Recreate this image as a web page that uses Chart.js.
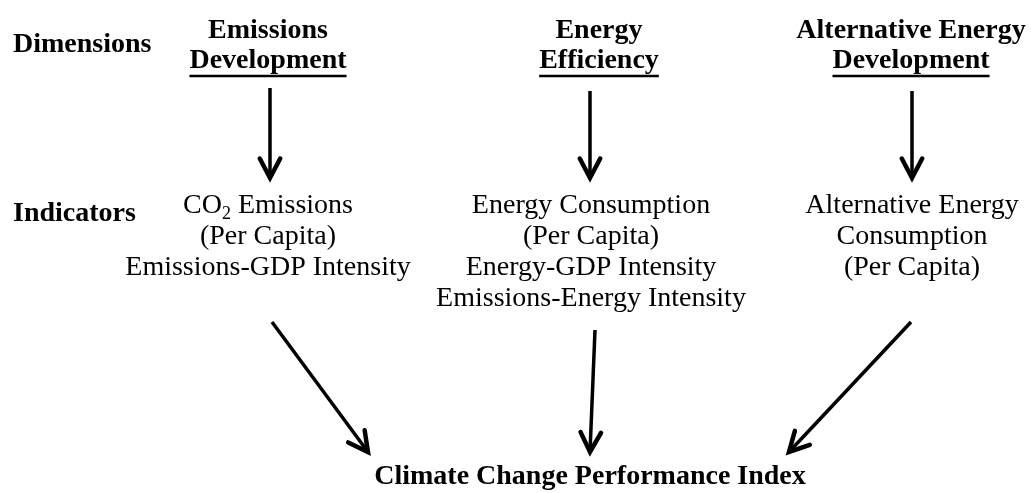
<!DOCTYPE html>
<html>
<head>
<meta charset="utf-8">
<script src="https://cdn.jsdelivr.net/npm/chart.js@4"></script>
<style>
  body { margin: 0; background: white; }
  #wrap { width: 1031px; height: 493px; position: relative; }
</style>
</head>
<body>
<div id="wrap"><canvas id="myChart"></canvas></div>
<script>
// diagram content, in the chart's own x / y units (y grows downward)
const rowLabels = ["Dimensions", "Indicators"]
const rowLabelY = [52, 221]

const dimensionLines = [
    ["Emissions", "Development"],
    ["Energy", "Efficiency"],
    ["Alternative Energy", "Development"]
]
const dimensionX = [268, 599, 911]
const dimensionY = [38, 68]

// {..} = subscript
const indicatorLines = [
    ["CO{2} Emissions", "(Per Capita)", "Emissions-GDP Intensity"],
    ["Energy Consumption", "(Per Capita)", "Energy-GDP Intensity", "Emissions-Energy Intensity"],
    ["Alternative Energy", "Consumption", "(Per Capita)"]
]
const indicatorX = [268, 591, 912]
const indicatorY = [213, 244, 275, 306]

const indexLabel = "Climate Change Performance Index"
const indexX = 590
const indexY = 484

// arrows: start -> end
const arrowStartX = [270, 590, 912, 272, 595, 911]
const arrowStartY = [88, 91, 91, 322, 330, 322]
const arrowEndX = [270, 590, 912, 368, 590, 789]
const arrowEndY = [178, 178, 178, 452, 452, 452]

const datasets = arrowStartX.map((x, i) => {
    return {
        data: [{x: x, y: arrowStartY[i]}, {x: arrowEndX[i], y: arrowEndY[i]}],
        showLine: true,
        borderColor: "black",
        borderWidth: 3.5,
        pointRadius: 0,
        borderCapStyle: "butt"
    }
})

const serif = '"Liberation Serif", "Times New Roman", serif'

function drawRich (ctx, text, cx, y, size) {
    // split into normal / subscript pieces
    const parts = []
    text.split(/(\{[^}]*\})/).forEach((p) => {
        if (!p) return
        if (p[0] === "{") parts.push({t: p.slice(1, -1), sub: true})
        else parts.push({t: p, sub: false})
    })
    let total = 0
    parts.forEach((p) => {
        ctx.font = (p.sub ? Math.round(size * 0.65) : size) + "px " + serif
        p.w = ctx.measureText(p.t).width
        total += p.w
    })
    let x = cx - total / 2
    ctx.textAlign = "left"
    parts.forEach((p) => {
        ctx.font = (p.sub ? Math.round(size * 0.65) : size) + "px " + serif
        ctx.fillText(p.t, x, p.sub ? y + 6 : y)
        x += p.w
    })
}

const diagramPlugin = {
    id: "diagram",
    afterDatasetsDraw (chart) {
        const ctx = chart.ctx
        const sx = chart.scales.x
        const sy = chart.scales.y
        ctx.save()
        ctx.fillStyle = "black"
        ctx.strokeStyle = "black"
        ctx.textBaseline = "alphabetic"

        // arrow heads
        chart.data.datasets.forEach((ds, i) => {
            const pts = chart.getDatasetMeta(i).data
            const a = pts[0], b = pts[1]
            const ang = Math.atan2(b.y - a.y, b.x - a.x)
            const len = 22, spread = Math.PI / 6.5
            ctx.lineWidth = 4.5
            ctx.lineCap = "round"
            ctx.lineJoin = "miter"
            ctx.beginPath()
            ctx.moveTo(b.x - len * Math.cos(ang - spread), b.y - len * Math.sin(ang - spread))
            ctx.lineTo(b.x, b.y)
            ctx.lineTo(b.x - len * Math.cos(ang + spread), b.y - len * Math.sin(ang + spread))
            ctx.stroke()
        })

        // row labels
        ctx.font = "bold 28px " + serif
        ctx.textAlign = "left"
        rowLabels.forEach((t, i) => {
            ctx.fillText(t, sx.getPixelForValue(13), sy.getPixelForValue(rowLabelY[i]))
        })

        // dimensions, second line underlined
        dimensionLines.forEach((lines, c) => {
            const x = sx.getPixelForValue(dimensionX[c])
            lines.forEach((t, r) => {
                const y = sy.getPixelForValue(dimensionY[r])
                ctx.font = "bold 28px " + serif
                ctx.textAlign = "center"
                ctx.fillText(t, x, y)
                if (r === lines.length - 1) {
                    const w = ctx.measureText(t).width
                    ctx.lineWidth = 2.5
                    ctx.lineCap = "butt"
                    ctx.beginPath()
                    ctx.moveTo(x - w / 2, y + 8)
                    ctx.lineTo(x + w / 2, y + 8)
                    ctx.stroke()
                }
            })
        })

        // indicators
        indicatorLines.forEach((lines, c) => {
            const x = sx.getPixelForValue(indicatorX[c])
            lines.forEach((t, r) => {
                drawRich(ctx, t, x, sy.getPixelForValue(indicatorY[r]), 28)
            })
        })

        // index at the bottom
        ctx.font = "bold 28px " + serif
        ctx.textAlign = "center"
        ctx.fillText(indexLabel, sx.getPixelForValue(indexX), sy.getPixelForValue(indexY))
        ctx.restore()
    }
}

const config = {
    type: "scatter",
    data: {datasets},
    options: {
        responsive: true,
        maintainAspectRatio: false,
        animation: false,
        layout: {padding: 0},
        plugins: {legend: {display: false}, tooltip: {enabled: false}},
        scales: {
            x: {type: "linear", min: 0, max: 1031, display: false},
            y: {type: "linear", min: 0, max: 493, reverse: true, display: false}
        }
    },
    plugins: [diagramPlugin]
}

const myChart = document.getElementById("myChart")
myChart.style.backgroundColor = "white"
new Chart(myChart, config)
</script>
</body>
</html>
